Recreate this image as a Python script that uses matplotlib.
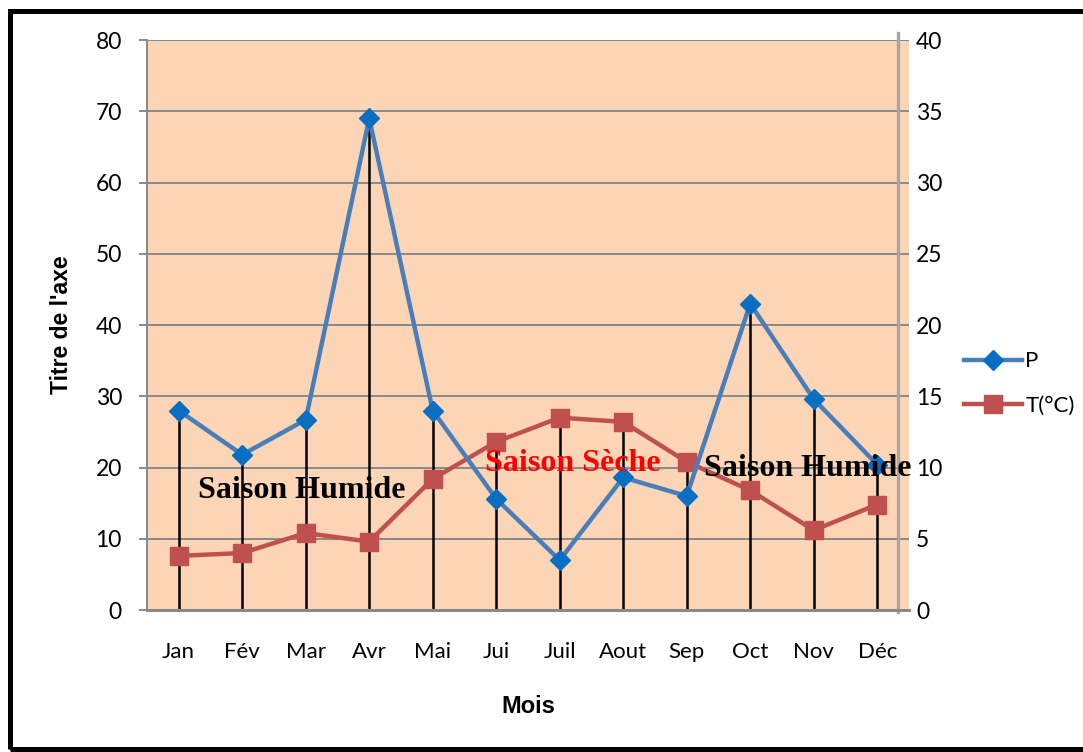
import matplotlib.pyplot as plt
import numpy as np
from matplotlib.lines import Line2D
from matplotlib.patches import Rectangle

months = ["Jan", "Fév", "Mar", "Avr", "Mai", "Jui", "Juil", "Aout", "Sep", "Oct", "Nov", "Déc"]
precip = [28.0, 21.8, 26.7, 69.0, 28.0, 15.6, 7.0, 18.6, 16.0, 43.0, 29.6, 20.4]
temp = [3.8, 4.0, 5.4, 4.8, 9.2, 11.8, 13.5, 13.2, 10.4, 8.4, 5.6, 7.4]

left_ticks = [0, 10, 20, 30, 40, 50, 60, 70, 80]
right_ticks = [0, 5, 10, 15, 20, 25, 30, 35, 40]

PEACH = "#FBD5B5"
GRID = "#898989"
BLUE_LINE = "#4A7EBB"
BLUE_MARK = "#0A6FC2"
RED = "#C0504D"

plt.rcParams["font.family"] = ["Lato", "DejaVu Sans"]

fig = plt.figure(figsize=(10.83, 7.52), dpi=100)
ax = fig.add_axes([0.1357, 0.1888, 0.7036, 0.758])
ax2 = ax.twinx()

x = np.arange(len(months))
ax.set_facecolor(PEACH)
ax.set_xlim(-0.5, 11.5)
ax.set_ylim(0, 80)
ax2.set_ylim(0, 40)

for t in left_ticks[1:]:
    ax.axhline(t, color=GRID, lw=1.4, zorder=1)

# drop lines from the highest point of each month
top = np.maximum(np.array(precip), np.array(temp) * 2)
ax.vlines(x, 0, top, color="black", lw=1.8, zorder=2)

ax.plot(x, np.array(temp) * 2, color=RED, lw=3.2, marker="s", ms=13,
        mfc=RED, mec=RED, zorder=3)
ax.plot(x, precip, color=BLUE_LINE, lw=3.2, marker="D", ms=10,
        mfc=BLUE_MARK, mec=BLUE_MARK, zorder=4)

# right-side vertical bar
ax.plot([11.33, 11.33], [-0.3, 81], color="#A6A6A6", lw=2.4, clip_on=False, zorder=5)

ax.set_xticks(x)
ax.set_xticklabels(months, fontsize=16)
ax.tick_params(axis="x", length=0, pad=23)
ax.set_yticks(left_ticks)
ax.tick_params(axis="y", length=6, width=1.4, color=GRID, labelsize=16.5, pad=12)
ax2.set_yticks(right_ticks)
ax2.tick_params(axis="y", length=0, labelsize=16.5, pad=5)

for a in (ax, ax2):
    a.spines["top"].set_visible(False)
    a.spines["right"].set_visible(False)
    a.spines["left"].set_color(GRID)
    a.spines["left"].set_linewidth(1.4)
    a.spines["bottom"].set_color(GRID)
    a.spines["bottom"].set_linewidth(2.0)
ax2.spines["left"].set_visible(False)

ax.set_ylabel("Titre de l'axe", fontsize=16.5, fontweight="bold",
              family=["Liberation Sans"], labelpad=16)
ax.set_xlabel("Mois", fontsize=17, fontweight="bold", family=["Liberation Sans"], labelpad=24)

serif = ["Liberation Serif"]
ax.text(1.94, 16.8, "Saison Humide", fontsize=23, fontweight="bold", family=serif,
        ha="center", va="center", zorder=6)
ax.text(6.21, 20.6, "Saison Sèche", fontsize=23, fontweight="bold", family=serif,
        color="#FF0000", ha="center", va="center", zorder=6)
ax.text(9.91, 19.8, "Saison Humide", fontsize=23, fontweight="bold", family=serif,
        ha="center", va="center", zorder=6)

handles = [
    Line2D([], [], color=BLUE_LINE, lw=3.2, marker="D", ms=10, mfc=BLUE_MARK, mec=BLUE_MARK),
    Line2D([], [], color=RED, lw=3.2, marker="s", ms=13, mfc=RED, mec=RED),
]
fig.legend(handles, ["P", "T(°C)"], loc="center left", bbox_to_anchor=(0.882, 0.49),
           frameon=False, fontsize=16, handlelength=2.6, handletextpad=0.15,
           labelspacing=1.1, borderaxespad=0)

fig.patches.append(Rectangle((9.5 / 1083, 3 / 752), 1.1, 738 / 752,
                             transform=fig.transFigure, fill=False, ec="black",
                             lw=3.6, clip_on=False))

fig.savefig("out.png", dpi=100, facecolor="white")
